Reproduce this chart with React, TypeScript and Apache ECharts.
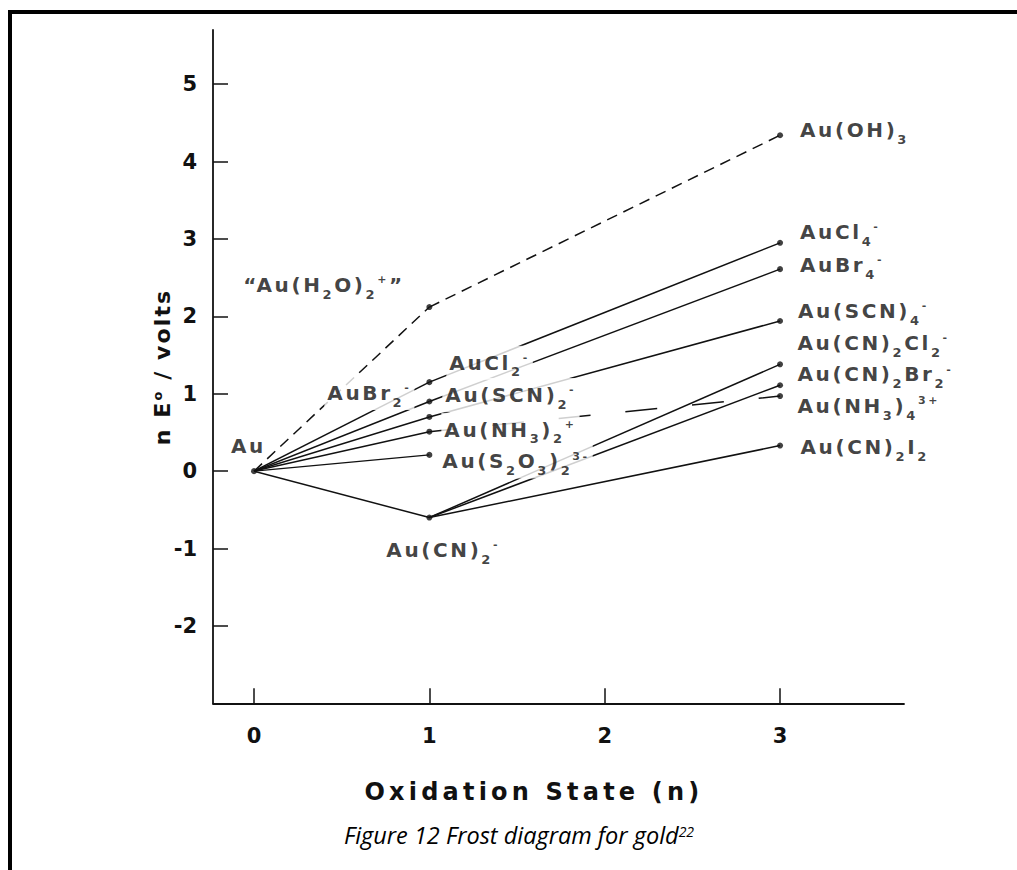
import React, { useEffect, useRef } from 'react';
import * as echarts from 'echarts';

// ---------------- data ----------------
const SPECIES = [
  'Au',
  'Au(H2O)2+', 'AuCl2-', 'AuBr2-', 'Au(SCN)2-', 'Au(NH3)2+', 'Au(S2O3)2 3-', 'Au(CN)2-',
  'Au(OH)3', 'AuCl4-', 'AuBr4-', 'Au(SCN)4-', 'Au(CN)2Cl2-', 'Au(CN)2Br2-', 'Au(NH3)4 3+', 'Au(CN)2I2',
];
const OXIDATION_STATE = [0, 1, 1, 1, 1, 1, 1, 1, 3, 3, 3, 3, 3, 3, 3, 3];
const NE_VOLTS = [0, 2.12, 1.15, 0.9, 0.7, 0.51, 0.21, -0.6, 4.34, 2.95, 2.61, 1.94, 1.38, 1.11, 0.97, 0.33];
const LABEL_MARKUP = [
  'Au',
  '“Au(H_{2}O)_{2}^{+}”', 'AuCl_{2}^{-}', 'AuBr_{2}^{-}', 'Au(SCN)_{2}^{-}', 'Au(NH_{3})_{2}^{+}',
  'Au(S_{2}O_{3})_{2}^{3-}', 'Au(CN)_{2}^{-}',
  'Au(OH)_{3}', 'AuCl_{4}^{-}', 'AuBr_{4}^{-}', 'Au(SCN)_{4}^{-}', 'Au(CN)_{2}Cl_{2}^{-}',
  'Au(CN)_{2}Br_{2}^{-}', 'Au(NH_{3})_{4}^{3+}', 'Au(CN)_{2}I_{2}',
];
const LINK_FROM = ['Au', 'Au(H2O)2+', 'Au', 'Au', 'Au', 'Au', 'Au', 'Au', 'AuCl2-', 'AuBr2-', 'Au(SCN)2-', 'Au(NH3)2+', 'Au(CN)2-', 'Au(CN)2-', 'Au(CN)2-'];
const LINK_TO = ['Au(H2O)2+', 'Au(OH)3', 'AuCl2-', 'AuBr2-', 'Au(SCN)2-', 'Au(NH3)2+', 'Au(S2O3)2 3-', 'Au(CN)2-', 'AuCl4-', 'AuBr4-', 'Au(SCN)4-', 'Au(NH3)4 3+', 'Au(CN)2Cl2-', 'Au(CN)2Br2-', 'Au(CN)2I2'];
const LINK_KIND = ['dash', 'dash', 'solid', 'solid', 'solid', 'solid', 'solid', 'solid', 'solid', 'solid', 'solid', 'longdash', 'solid', 'solid', 'solid'];
const X_TICKS = [0, 1, 2, 3];
const Y_TICKS = [-2, -1, 0, 1, 2, 3, 4, 5];
const X_TITLE = 'Oxidation State (n)';
const Y_TITLE_MARKUP = 'n E^{o} / volts';
const CAPTION_MARKUP = 'Figure 12 Frost diagram for gold^{22}';

// ---------------- layout (pixels) ----------------
// label offsets: [text left edge - point x, text middle - point y]
const LABEL_OFFSET: Record<string, [number, number]> = {
  'Au': [-23, -25],
  'Au(H2O)2+': [-186, -22],
  'AuCl2-': [20, -19.5],
  'AuBr2-': [-102, -8.5],
  'Au(SCN)2-': [16, -22],
  'Au(NH3)2+': [15, -2],
  'Au(S2O3)2 3-': [13, 6.5],
  'Au(CN)2-': [-43, 32.5],
  'Au(OH)3': [20, -5],
  'AuCl4-': [20, -11],
  'AuBr4-': [20, -4],
  'Au(SCN)4-': [18, -10],
  'Au(CN)2Cl2-': [17.5, -21.5],
  'Au(CN)2Br2-': [17.5, -11],
  'Au(NH3)4 3+': [17.5, 10],
  'Au(CN)2I2': [20.5, 1.5],
};
const NO_BACKGROUND = ['Au', 'Au(H2O)2+', 'Au(OH)3', 'AuCl4-', 'AuBr4-', 'Au(SCN)4-', 'Au(CN)2Cl2-', 'Au(CN)2Br2-', 'Au(NH3)4 3+', 'Au(CN)2I2', 'Au(CN)2-'];

const FAM_LABEL = 'DejaVu Sans, lsLabel';
const FAM_XTITLE = 'DejaVu Sans, lsXTitle';
const FAM_YTITLE = 'DejaVu Sans, lsYTitle';
const FAM_TICK = 'DejaVu Sans, Arial';
const FAM_CAPTION = 'Open Sans, sans-serif';
const SPACING: Record<string, number> = { lsLabel: 2.6, lsXTitle: 4.2, lsYTitle: 2.1 };

function spacingFor(font?: string): number {
  if (!font) return 0;
  for (const k in SPACING) if (font.indexOf(k) >= 0) return SPACING[k];
  return 0;
}

let measureCtx: CanvasRenderingContext2D | null = null;
const setPlatformAPI = (echarts as any).setPlatformAPI;
if (typeof setPlatformAPI === 'function') {
  setPlatformAPI({
    measureText(text: string, font?: string) {
      if (!measureCtx) measureCtx = document.createElement('canvas').getContext('2d');
      const ctx = measureCtx as CanvasRenderingContext2D;
      ctx.font = font || '12px sans-serif';
      const m = ctx.measureText(text);
      return {
        width: m.width + spacingFor(font) * text.length,
        actualBoundingBoxAscent: m.actualBoundingBoxAscent,
        actualBoundingBoxDescent: m.actualBoundingBoxDescent,
        actualBoundingBoxLeft: m.actualBoundingBoxLeft,
        actualBoundingBoxRight: m.actualBoundingBoxRight,
        fontBoundingBoxAscent: (m as any).fontBoundingBoxAscent,
        fontBoundingBoxDescent: (m as any).fontBoundingBoxDescent,
      };
    },
  });
}

function toRich(markup: string): string {
  let out = '';
  let buf = '';
  let i = 0;
  const flush = () => {
    if (buf) {
      out += `{m|${buf}}`;
      buf = '';
    }
  };
  while (i < markup.length) {
    const c = markup[i];
    if ((c === '_' || c === '^') && markup[i + 1] === '{') {
      const end = markup.indexOf('}', i + 2);
      flush();
      out += `{${c === '_' ? 's' : 'p'}|${markup.slice(i + 2, end)}}`;
      i = end + 1;
    } else {
      buf += c;
      i++;
    }
  }
  flush();
  return out;
}

const INK = '#111';

function buildOption(): any {
  const idx = (name: string) => SPECIES.indexOf(name);
  const point = (name: string) => [OXIDATION_STATE[idx(name)], NE_VOLTS[idx(name)]];

  const lineSeries = LINK_FROM.map((from, i) => ({
    type: 'line',
    silent: true,
    z: 2,
    symbol: 'none',
    data: [point(from), point(LINK_TO[i])],
    lineStyle: {
      color: INK,
      width: 1.5,
      type: LINK_KIND[i] === 'dash' ? [11, 7] : LINK_KIND[i] === 'longdash' ? [32, 35] : 'solid',
      dashOffset: LINK_KIND[i] === 'longdash' ? 3.8 : 0,
    },
  }));

  const labelRich = {
    m: { fontFamily: FAM_LABEL, fontWeight: 'bold', fontSize: 20, lineHeight: 34, color: INK, verticalAlign: 'middle' },
    s: { fontFamily: FAM_LABEL, fontWeight: 'bold', fontSize: 13, lineHeight: 14, color: INK, verticalAlign: 'bottom' },
    p: { fontFamily: FAM_LABEL, fontWeight: 'bold', fontSize: 11, padding: [5, 0, 0, 0], color: INK, verticalAlign: 'top' },
  };

  const scatter = {
    type: 'scatter',
    silent: true,
    z: 3,
    symbol: 'circle',
    symbolSize: 6,
    itemStyle: { color: INK },
    label: {
      show: true,
      position: 'inside',
      align: 'left',
      verticalAlign: 'middle',
      formatter: (p: any) => toRich(LABEL_MARKUP[p.dataIndex]),
      fontFamily: FAM_LABEL,
      fontWeight: 'bold',
      fontSize: 20,
      lineHeight: 34,
      color: INK,
      backgroundColor: '#fff',
      padding: [0, 3, 0, 3],
      rich: labelRich,
    },
    data: SPECIES.map((name, i) => {
      const off = LABEL_OFFSET[name] || [10, 0];
      return {
        name,
        value: [OXIDATION_STATE[i], NE_VOLTS[i]],
        label: {
          offset: [off[0] - 3, off[1]],
          backgroundColor: NO_BACKGROUND.indexOf(name) >= 0 ? 'transparent' : '#fff',
        },
      };
    }),
  };

  const gl = 213;
  const gt = 30;
  const gr = 904;
  const gb = 703.3;

  return {
    animation: false,
    backgroundColor: '#fff',
    grid: { left: gl, top: gt, width: gr - gl, height: gb - gt, containLabel: false },
    xAxis: {
      type: 'value',
      min: -0.234,
      max: 3.707,
      axisLine: { show: true, onZero: false, lineStyle: { color: INK, width: 1.8 } },
      axisTick: { show: true, inside: true, length: 15, customValues: X_TICKS, lineStyle: { color: INK, width: 1.5 } },
      axisLabel: {
        show: true,
        customValues: X_TICKS,
        margin: 22,
        fontFamily: FAM_TICK,
        fontWeight: 'bold',
        fontSize: 21,
        color: INK,
      },
      splitLine: { show: false },
    },
    yAxis: {
      type: 'value',
      min: -3,
      max: 5.7,
      axisLine: { show: true, onZero: false, lineStyle: { color: INK, width: 1.8 } },
      axisTick: { show: true, inside: true, length: 15, customValues: Y_TICKS, lineStyle: { color: INK, width: 1.5 } },
      axisLabel: {
        show: true,
        customValues: Y_TICKS,
        margin: 16,
        fontFamily: FAM_TICK,
        fontWeight: 'bold',
        fontSize: 21,
        color: INK,
      },
      splitLine: { show: false },
    },
    graphic: [
      { type: 'rect', silent: true, shape: { x: 8, y: 10, width: 1009, height: 4 }, style: { fill: '#000' } },
      { type: 'rect', silent: true, shape: { x: 8, y: 10, width: 4, height: 860 }, style: { fill: '#000' } },
      {
        type: 'text',
        silent: true,
        x: 534,
        y: 792,
        style: {
          text: X_TITLE,
          fontFamily: FAM_XTITLE,
          fontWeight: 'bold',
          fontSize: 24,
          fill: INK,
          align: 'center',
          verticalAlign: 'middle',
        },
      },
      {
        type: 'text',
        silent: true,
        x: 162,
        y: 367,
        rotation: Math.PI / 2,
        style: {
          text: toRich(Y_TITLE_MARKUP),
          fontFamily: FAM_YTITLE,
          fontWeight: 'bold',
          fontSize: 22,
          fill: INK,
          align: 'center',
          verticalAlign: 'middle',
          rich: {
            m: { fontFamily: FAM_YTITLE, fontWeight: 'bold', fontSize: 22, lineHeight: 30, fill: INK, verticalAlign: 'middle' },
            p: { fontFamily: FAM_YTITLE, fontWeight: 'bold', fontSize: 13, padding: [3, 0, 0, 0], fill: INK, verticalAlign: 'top' },
          },
        },
      },
      {
        type: 'text',
        silent: true,
        x: 519,
        y: 835,
        style: {
          text: toRich(CAPTION_MARKUP),
          fontFamily: FAM_CAPTION,
          fontStyle: 'italic',
          fontSize: 23.5,
          fill: '#000',
          align: 'center',
          verticalAlign: 'middle',
          rich: {
            m: { fontFamily: FAM_CAPTION, fontStyle: 'italic', fontSize: 23.5, lineHeight: 30, fill: '#000', verticalAlign: 'middle' },
            p: { fontFamily: FAM_CAPTION, fontStyle: 'italic', fontSize: 14, padding: [4, 0, 0, 0], fill: '#000', verticalAlign: 'top' },
          },
        },
      },
    ],
    series: [...lineSeries, scatter],
  };
}

const CSS = `
text[style*="lsLabel"], text[font-family*="lsLabel"] { letter-spacing: 2.6px; }
text[style*="lsXTitle"], text[font-family*="lsXTitle"] { letter-spacing: 4.2px; }
text[style*="lsYTitle"], text[font-family*="lsYTitle"] { letter-spacing: 2.1px; }
`;

export default function App() {
  const ref = useRef<HTMLDivElement>(null);
  useEffect(() => {
    if (!ref.current) return;
    const chart = echarts.init(ref.current, undefined, { renderer: 'svg' });
    chart.setOption(buildOption());
    return () => chart.dispose();
  }, []);
  return (
    <>
      <style>{CSS}</style>
      <div
        ref={ref}
        style={{ position: 'absolute', left: 0, top: 0, width: 1017, height: 870, background: '#fff' }}
      />
    </>
  );
}
